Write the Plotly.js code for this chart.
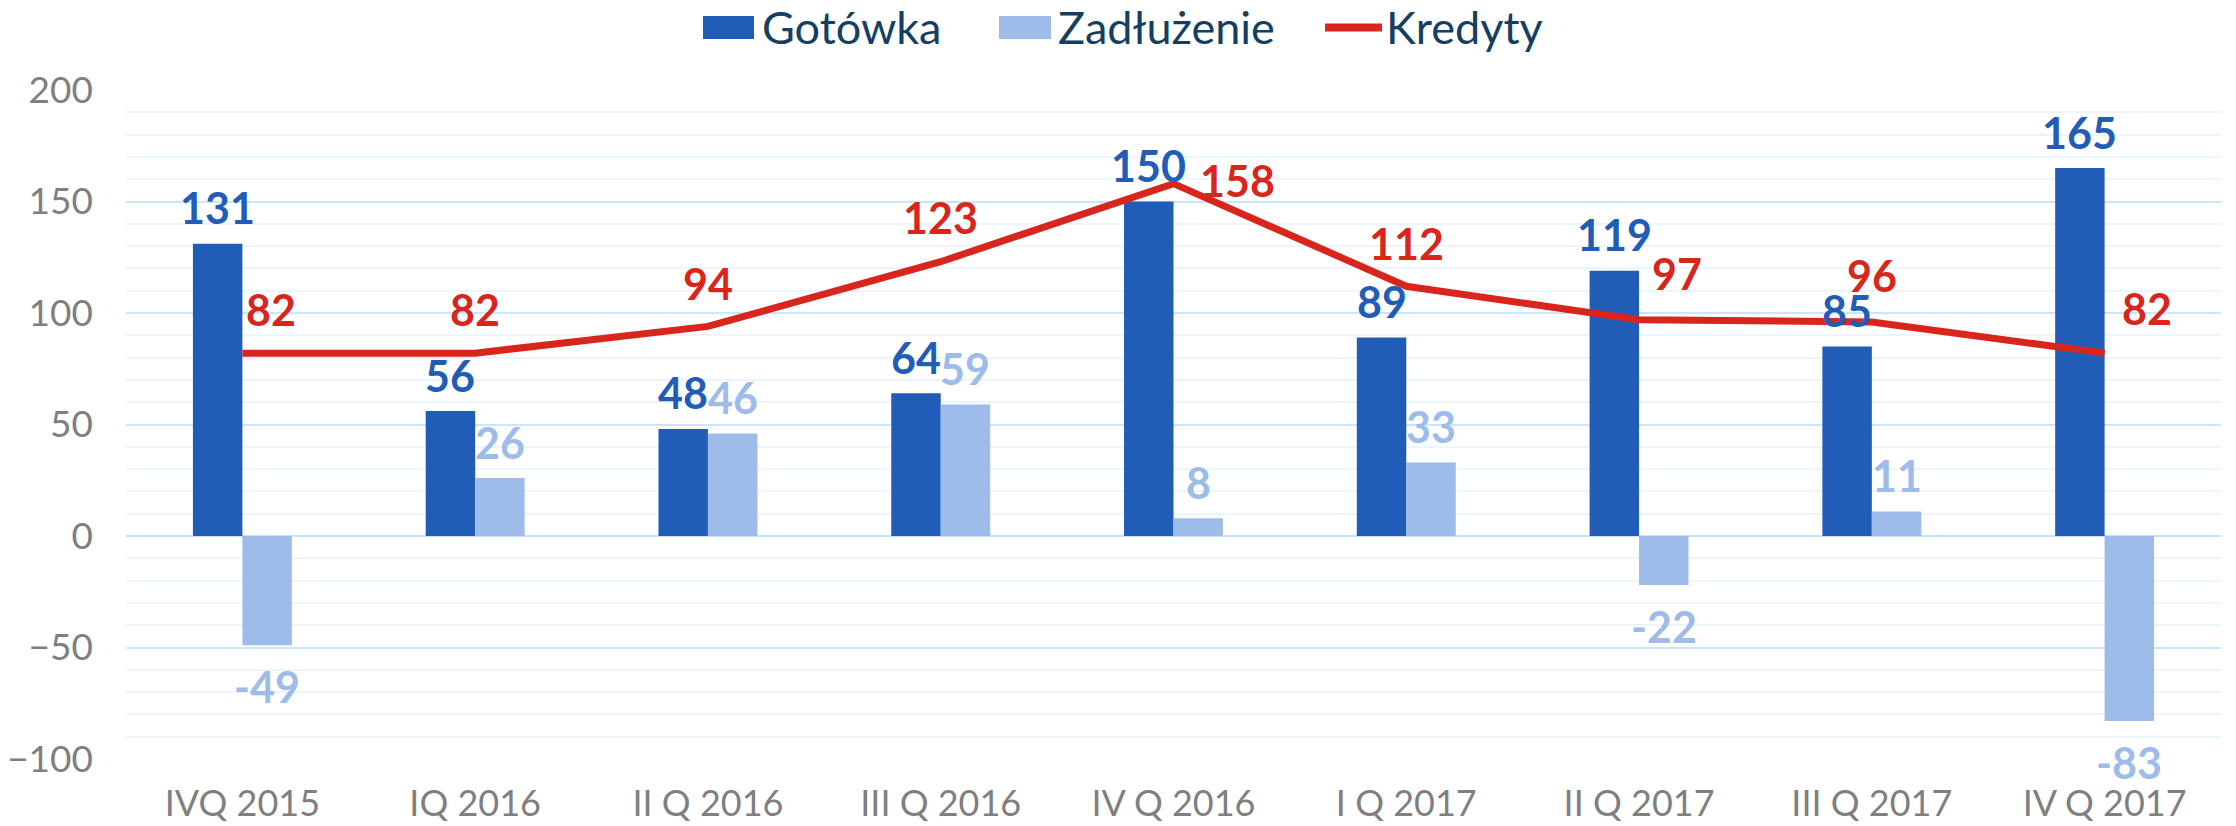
<!DOCTYPE html>
<html>
<head>
<meta charset="utf-8">
<script src="https://cdn.plot.ly/plotly-3.0.1.min.js"></script>
<style>
html,body{margin:0;padding:0;background:#fff;}
#chart{width:2236px;height:826px;}
</style>
</head>
<body>
<div id="chart"></div>
<script>
// ---- data ----
var categories = ['IVQ 2015','IQ 2016','II Q 2016','III Q 2016','IV Q 2016','I Q 2017','II Q 2017','III Q 2017','IV Q 2017'];
var gotowka    = [131, 56, 48, 64, 150, 89, 119, 85, 165];
var zadluzenie = [-49, 26, 46, 59, 8, 33, -22, 11, -83];
var kredyty    = [82, 82, 94, 123, 158, 112, 97, 96, 82];
var seriesNames = ['Gotówka', 'Zadłużenie', 'Kredyty'];

// ---- style ----
var C_GOT = '#215cb7', C_ZAD = '#9dbcea', C_KRED = '#d9261c';
var C_GRID = '#cbe6fb', C_MINOR = '#eaf5fe', C_TICK = '#7f7f7f', C_LEG = '#153e63';
var FONT = 'Lato, "DejaVu Sans", sans-serif';
var M = {l:126, r:15, t:90, b:67};
var W = 2236 - M.l - M.r, H = 826 - M.t - M.b;
function px(x){ return (x - M.l) / W; }
function py(y){ return (826 - M.b - y) / H; }

var BARGAP = 0.575;
var half = (1 - BARGAP) / 4; // centre offset of each grouped bar, in category units

// label placement (pixels) for Kredyty labels
var kredDx = [29, 0, 0, 0, 64, 0, 38, 0, 42];
var kredDy = [44, 44, 43, 44, 3, 43, 46, 46, 45];

var traces = [
  {type:'bar', name:seriesNames[0], x:categories, y:gotowka, marker:{color:C_GOT}, hoverinfo:'y'},
  {type:'bar', name:seriesNames[1], x:categories, y:zadluzenie, marker:{color:C_ZAD}, hoverinfo:'y'},
  {type:'scatter', mode:'lines', name:seriesNames[2], x:categories, y:kredyty,
   line:{color:C_KRED, width:7}, hoverinfo:'y'}
];

var annotations = [];
var labFont = function(c){ return {family:FONT, size:43, color:c, weight:'bold'}; };
categories.forEach(function(c, i){
  var g = gotowka[i];
  annotations.push({xref:'x', yref:'y', x:i - half, y:g, text:String(g), showarrow:false,
    xanchor:'center', yanchor:'middle', yshift: g >= 0 ? 36 : -41, font:labFont(C_GOT)});
  var z = zadluzenie[i];
  annotations.push({xref:'x', yref:'y', x:i + half, y:z, text:String(z), showarrow:false,
    xanchor:'center', yanchor:'middle', yshift: z >= 0 ? 36 : -41, font:labFont(C_ZAD)});
  var k = kredyty[i];
  annotations.push({xref:'x', yref:'y', x:i, y:k, text:String(k), showarrow:false,
    xanchor:'center', yanchor:'middle', xshift:kredDx[i], yshift:kredDy[i], font:labFont(C_KRED)});
});

// custom legend (swatches sized like the original)
var shapes = [];
var legY = 27.5;
var legendSpec = [
  {name:seriesNames[0], kind:'rect', color:C_GOT, x0:703, x1:754, tx:760},
  {name:seriesNames[1], kind:'rect', color:C_ZAD, x0:999, x1:1051, tx:1056},
  {name:seriesNames[2], kind:'line', color:C_KRED, x0:1325, x1:1382, tx:1384}
];
legendSpec.forEach(function(s){
  if (s.kind === 'rect') {
    shapes.push({type:'rect', xref:'paper', yref:'paper', x0:px(s.x0), x1:px(s.x1),
      y0:py(legY - 11.5), y1:py(legY + 11.5), fillcolor:s.color, line:{width:0}});
  } else {
    shapes.push({type:'line', xref:'paper', yref:'paper', x0:px(s.x0), x1:px(s.x1),
      y0:py(legY), y1:py(legY), line:{color:s.color, width:8}});
  }
  annotations.push({xref:'paper', yref:'paper', x:px(s.tx), y:py(legY), text:s.name,
    showarrow:false, xanchor:'left', yanchor:'middle',
    font:{family:FONT, size:45, color:C_LEG}});
});

var layout = {
  width:2236, height:826,
  margin:M,
  paper_bgcolor:'#ffffff', plot_bgcolor:'#ffffff',
  showlegend:false,
  barmode:'group', bargap:BARGAP, bargroupgap:0,
  xaxis:{type:'category', categoryorder:'array', categoryarray:categories,
    showgrid:false, showline:false, zeroline:false, ticks:'',
    tickfont:{family:FONT, size:36, color:C_TICK}, ticklabelstandoff:20},
  xaxis2:{overlaying:'x', anchor:'free', position:1/3, type:'linear',
    range:[-0.5, categories.length - 0.5], tickmode:'linear', tick0:-0.5, dtick:1,
    ticks:'outside', ticklen:12, tickwidth:2, tickcolor:'#c6e2f8',
    showticklabels:false, showgrid:false, showline:false, zeroline:false},
  yaxis:{range:[-100, 200], tickmode:'linear', tick0:0, dtick:50,
    showgrid:true, gridcolor:C_GRID, gridwidth:2,
    zeroline:true, zerolinecolor:'#c6e2f8', zerolinewidth:2,
    minor:{tickmode:'linear', tick0:0, dtick:10, showgrid:true, gridcolor:C_MINOR, gridwidth:2, ticks:''},
    ticks:'', showline:false,
    tickfont:{family:FONT, size:37, color:C_TICK}, ticklabelstandoff:32},
  shapes:shapes,
  annotations:annotations
};

Plotly.newPlot('chart', traces, layout, {displayModeBar:false, staticPlot:true});
</script>
</body>
</html>
